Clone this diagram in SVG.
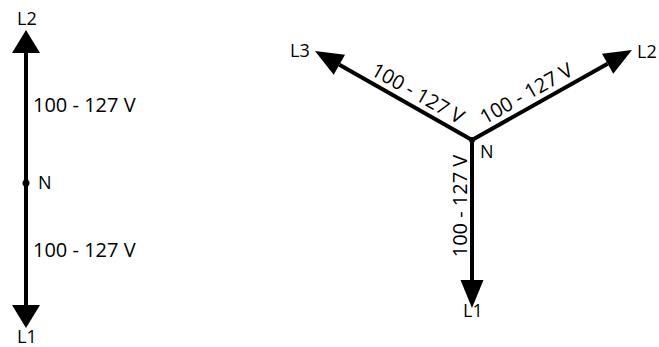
<svg xmlns="http://www.w3.org/2000/svg" width="659" height="347" viewBox="0 0 659 347">
<style>
.w{stroke:#000;stroke-width:4;fill:none}
.t{font-family:"Open Sans","Noto Sans",sans-serif;font-size:20px;fill:#000}
.l{font-family:"Open Sans","Noto Sans",sans-serif;font-size:18px;fill:#000}
</style>
<defs>
<path id="ha" d="M0,0 L-23,-14 L-23,14 Z" fill="#000"/>
<path id="hb" d="M0,0 L-28,-11.5 L-28,11.5 Z" fill="#000"/>
</defs>
<g id="connectors">
<line class="w" x1="26" y1="50" x2="26" y2="310"/>
<use href="#ha" transform="translate(26,30) rotate(-90)"/>
<use href="#ha" transform="translate(26,328) rotate(90)"/>
<line class="w" x1="472" y1="140" x2="607.6" y2="63.7"/>
<line class="w" x1="472" y1="140" x2="339.4" y2="64.8"/>
<line class="w" x1="472" y1="140" x2="472" y2="284"/>
<use href="#hb" transform="translate(632,50) rotate(-29.4)"/>
<use href="#hb" transform="translate(315,51) rotate(-150.45)"/>
<use href="#hb" transform="translate(472,308) rotate(90)"/>
</g>
<g id="node-N-left">
<circle cx="26" cy="183" r="3.5" fill="#000"/>
<text class="l" x="38" y="189">N</text>
</g>
<g id="node-L2-left"><text class="l" x="17" y="25">L2</text></g>
<g id="node-L1-left"><text class="l" x="17" y="343">L1</text></g>
<g id="labels-left">
<text class="t" x="33" y="112">100 - 127 V</text>
<text class="t" x="33" y="257">100 - 127 V</text>
</g>
<g id="node-N-right">
<circle cx="472" cy="140" r="3" fill="#000"/>
<text class="l" x="480" y="158">N</text>
</g>
<g id="node-L3-right"><text class="l" x="290" y="57">L3</text></g>
<g id="node-L2-right"><text class="l" x="637" y="58">L2</text></g>
<g id="node-L1-right"><text class="l" x="463" y="317">L1</text></g>
<g id="labels-right">
<text class="t" text-anchor="middle" transform="translate(529.6,99.5) rotate(-29.4)">100 - 127 V</text>
<text class="t" text-anchor="middle" transform="translate(414.5,99.4) rotate(29.5)">100 - 127 V</text>
<text class="t" text-anchor="middle" transform="translate(467,206) rotate(-90)">100 - 127 V</text>
</g>
</svg>
